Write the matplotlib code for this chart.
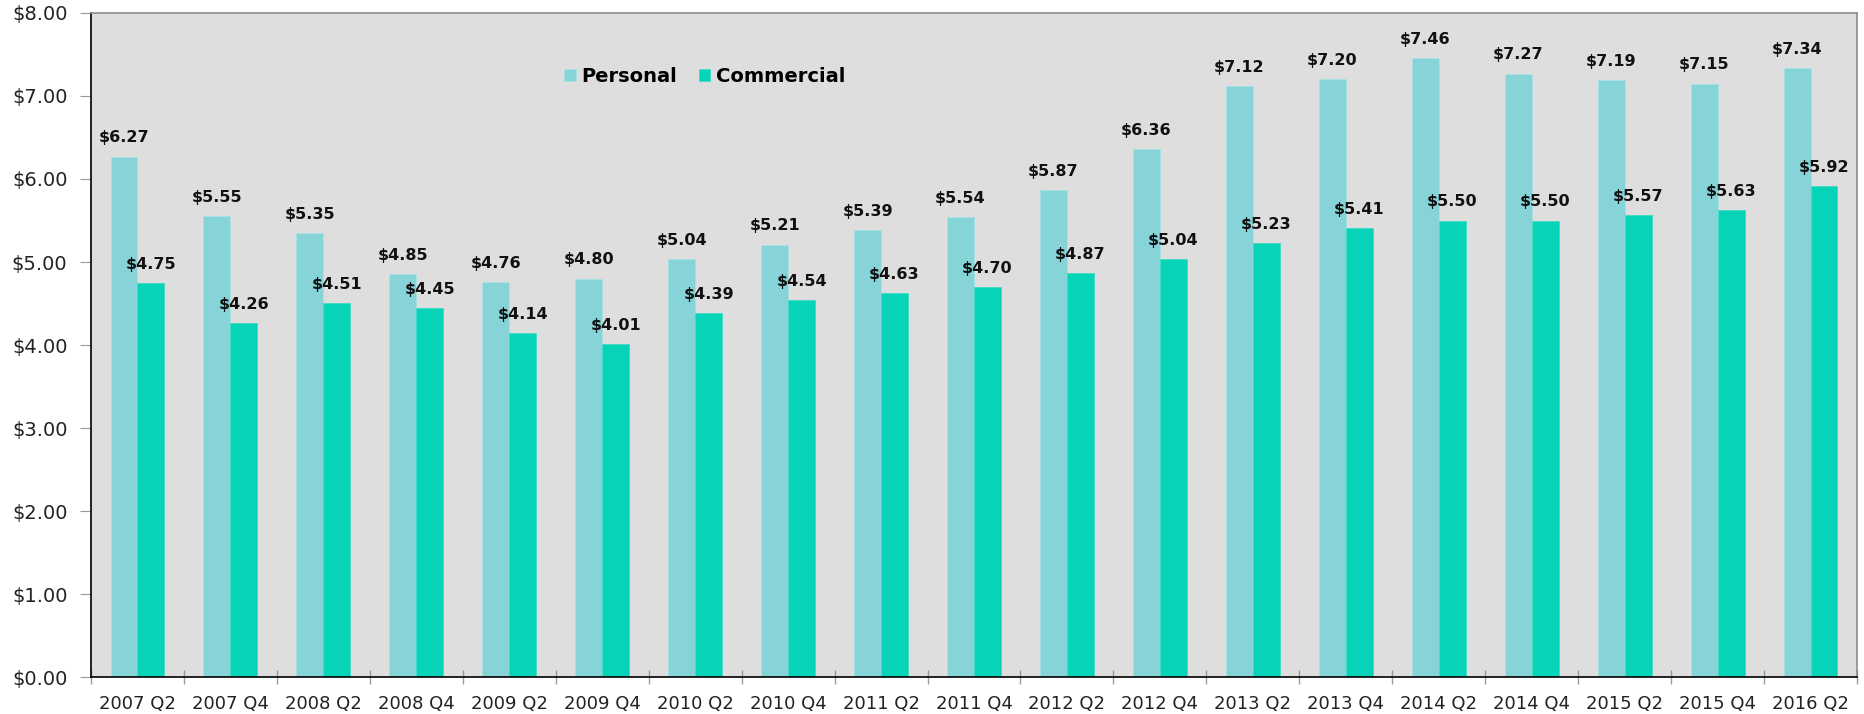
import numpy as np
import matplotlib.pyplot as plt

# =============================================================================
# DATOS
# =============================================================================

periodos = ["2007 Q2", "2007 Q4", "2008 Q2", "2008 Q4", "2009 Q2", "2009 Q4",
            "2010 Q2", "2010 Q4", "2011 Q2", "2011 Q4", "2012 Q2", "2012 Q4",
            "2013 Q2", "2013 Q4", "2014 Q2", "2014 Q4", "2015 Q2", "2015 Q4",
            "2016 Q2"]
personal = [6.27, 5.55, 5.35, 4.85, 4.76, 4.80, 5.04, 5.21, 5.39, 5.54,
            5.87, 6.36, 7.12, 7.20, 7.46, 7.27, 7.19, 7.15, 7.34]
commercial = [4.75, 4.26, 4.51, 4.45, 4.14, 4.01, 4.39, 4.54, 4.63, 4.70,
              4.87, 5.04, 5.23, 5.41, 5.50, 5.50, 5.57, 5.63, 5.92]
y_ticks = [0, 1, 2, 3, 4, 5, 6, 7, 8]

C_PERSONAL = "#86D4D8"
C_COMMERCIAL = "#07D3B8"

plt.rcParams["font.family"] = ["DejaVu Sans"]

fig = plt.figure(figsize=(18.65, 7.14), dpi=100)
ax = fig.add_axes([0.0488, 0.0518, 0.9469, 0.9300])
ax.set_facecolor("#DEDEDE")

x = np.arange(len(periodos))
w = 0.29
b1 = ax.bar(x - w / 2, personal, w, color=C_PERSONAL, edgecolor="#A8E2E4",
            linewidth=0.6, label="Personal")
b2 = ax.bar(x + w / 2, commercial, w, color=C_COMMERCIAL, edgecolor="#3FDCC6",
            linewidth=0.6, label="Commercial")

# etiquetas de valor encima de cada barra
for barras, valores in ((b1, personal), (b2, commercial)):
    for r, v in zip(barras, valores):
        ax.annotate(f"${v:.2f}", (r.get_x() + r.get_width() / 2, v),
                    xytext=(0, 8), textcoords="offset points",
                    ha="center", va="bottom", fontsize=11.5,
                    fontweight="bold", color="#111111")

ax.set_xlim(-0.5, len(periodos) - 0.5)
ax.set_ylim(0, 8)
ax.set_yticks(y_ticks)
ax.set_yticklabels([f"${t:.2f}" for t in y_ticks], fontsize=14, color="#222222")
ax.set_xticks(x)
ax.set_xticklabels(periodos, fontsize=13, color="#222222")
ax.set_xticks(np.arange(len(periodos) + 1) - 0.5, minor=True)
ax.tick_params(axis="x", which="major", length=0, pad=13)
ax.tick_params(axis="x", which="minor", direction="inout", length=10,
               color="#999999", width=1)
ax.tick_params(axis="y", length=8, color="#999999", pad=9)

ax.spines["left"].set_color("black")
ax.spines["bottom"].set_color("black")
ax.spines["top"].set_color("#8C8C8C")
ax.spines["right"].set_color("#8C8C8C")
for s in ax.spines.values():
    s.set_linewidth(1.2)

ax.legend(loc="upper left", bbox_to_anchor=(0.258, 0.945), ncol=2,
          frameon=False, handlelength=0.6, handleheight=0.6,
          handletextpad=0.3, columnspacing=1.1,
          prop={"size": 14, "weight": "bold"})

fig.savefig("out.png", dpi=100)
